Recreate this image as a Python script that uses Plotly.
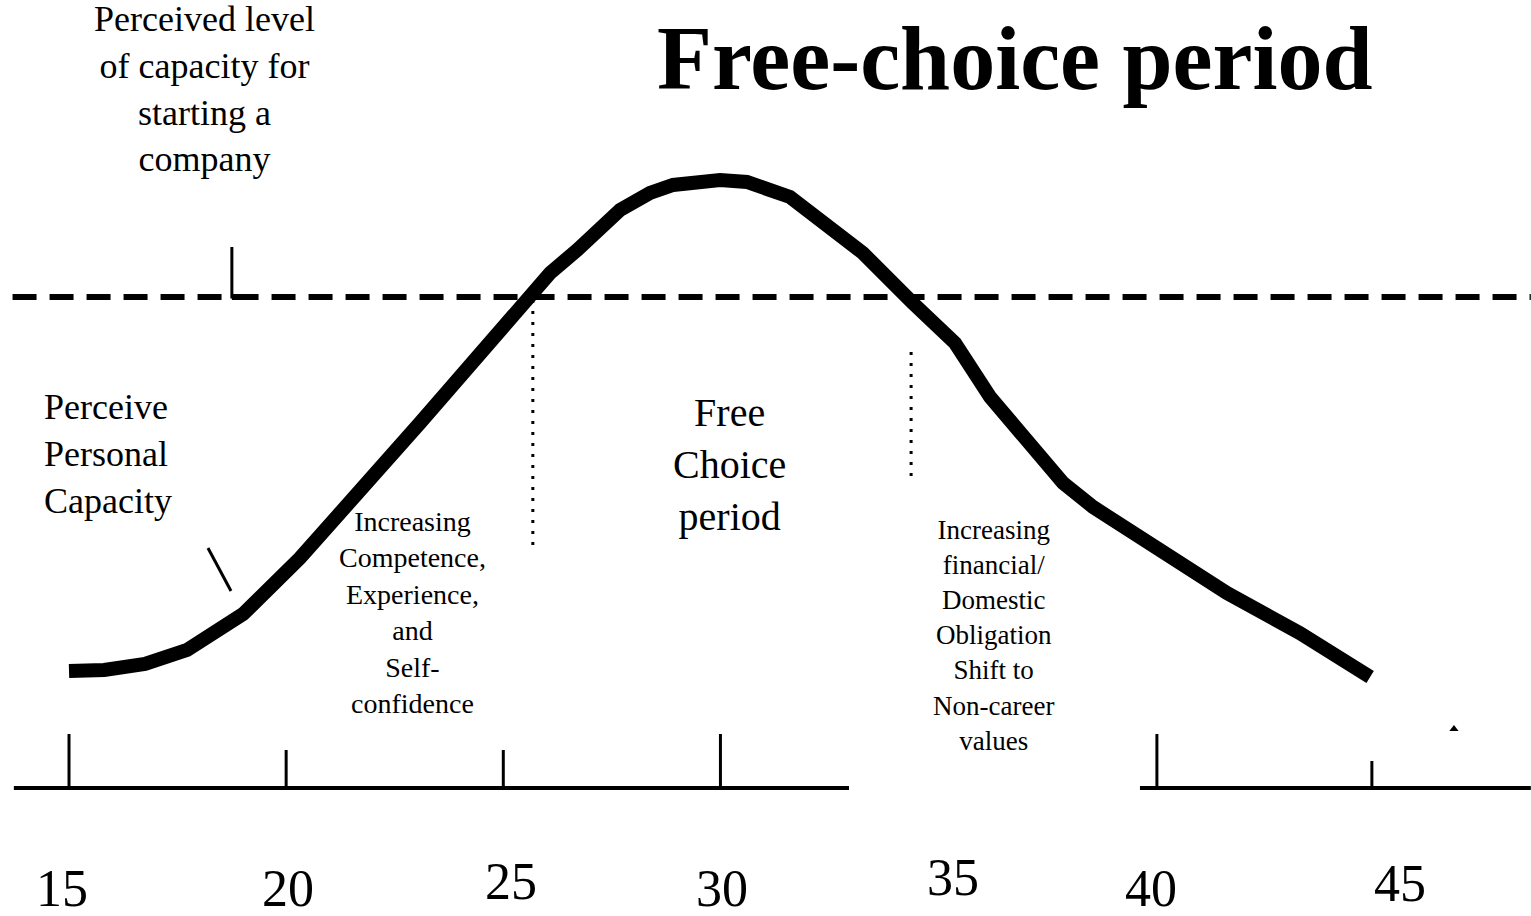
import plotly.graph_objects as go

# ---- data ----
curve_age = [15.0, 15.81, 16.75, 17.72, 19.01, 20.32, 23.08, 25.78, 26.08, 26.70, 27.69, 28.38, 28.91,
             29.99, 30.61, 31.60, 33.28, 34.43, 35.40, 36.21, 37.89, 38.58, 40.05, 41.66, 43.34, 44.96]
curve_level = [1.17, 1.18, 1.24, 1.38, 1.74, 2.30, 3.65, 4.98, 5.15, 5.38, 5.78, 5.95, 6.03,
               6.08, 6.06, 5.91, 5.35, 4.85, 4.45, 3.91, 3.05, 2.81, 2.38, 1.95, 1.55, 1.11]
threshold_level = 4.91
tick_ages = [15, 20, 25, 30, 40.05, 45]
tick_heights = [0.54, 0.38, 0.38, 0.54, 0.54, 0.27]
tick_labels = ["15", "20", "25", "30", "35", "40", "45"]
label_ages = [14.84, 20.04, 25.17, 30.03, 35.35, 39.91, 45.65]
label_levels = [-1.00, -1.00, -0.93, -1.00, -0.89, -1.00, -0.95]
axis_segments = [(13.73, 32.96), (39.66, 48.66)]
free_choice_start = 25.68
free_choice_end = 34.39

FONT = "Liberation Serif, Times New Roman, serif"

fig = go.Figure()

# main curve
fig.add_trace(go.Scatter(x=curve_age, y=curve_level, mode="lines",
                         line=dict(color="black", width=14), hoverinfo="skip"))

# threshold dashed line
fig.add_trace(go.Scatter(x=[13.7, 48.66], y=[threshold_level, threshold_level], mode="lines",
                         line=dict(color="black", width=6, dash="24px,13px"), hoverinfo="skip"))

# L-mark near threshold
fig.add_trace(go.Scatter(x=[18.75, 18.75, 19.2], y=[5.41, threshold_level, threshold_level], mode="lines",
                         line=dict(color="black", width=3), hoverinfo="skip"))
fig.add_trace(go.Scatter(x=[18.75, 19.2], y=[threshold_level, threshold_level], mode="lines",
                         line=dict(color="black", width=6), hoverinfo="skip"))

# small diagonal pointer
fig.add_trace(go.Scatter(x=[18.20, 18.73], y=[2.40, 1.97], mode="lines",
                         line=dict(color="black", width=3), hoverinfo="skip"))

# dotted boundaries of free choice period
fig.add_trace(go.Scatter(x=[free_choice_start, free_choice_start], y=[4.88, 2.41], mode="lines",
                         line=dict(color="black", width=3, dash="3px,8px"), hoverinfo="skip"))
fig.add_trace(go.Scatter(x=[free_choice_end, free_choice_end], y=[4.36, 3.11], mode="lines",
                         line=dict(color="black", width=3, dash="3px,8px"), hoverinfo="skip"))

# axis segments
for a0, a1 in axis_segments:
    fig.add_trace(go.Scatter(x=[a0, a1], y=[0, 0], mode="lines",
                             line=dict(color="black", width=4), hoverinfo="skip"))

# ticks
for ta, th in zip(tick_ages, tick_heights):
    fig.add_trace(go.Scatter(x=[ta, ta], y=[0, th], mode="lines",
                             line=dict(color="black", width=3), hoverinfo="skip"))

# small triangle
fig.add_trace(go.Scatter(x=[46.89], y=[0.59], mode="markers",
                         marker=dict(symbol="triangle-up", size=8, color="black"), hoverinfo="skip"))

annotations = []
for lab, la, ll in zip(tick_labels, label_ages, label_levels):
    annotations.append(dict(x=la, y=ll, text=lab, showarrow=False, xanchor="center", yanchor="middle",
                            font=dict(family=FONT, size=52, color="black")))

annotations += [
    dict(x=36.78, y=7.30, text="<b>Free-choice period</b>", showarrow=False,
         xanchor="center", yanchor="middle", font=dict(family=FONT, size=90, color="black")),
    dict(x=18.13, y=6.99, text="Perceived level<br>of capacity for<br>starting a<br>company", showarrow=False,
         xanchor="center", yanchor="middle", align="center", font=dict(family=FONT, size=36, color="black")),
    dict(x=14.38, y=3.34, text="Perceive<br>Personal<br>Capacity", showarrow=False,
         xanchor="left", yanchor="middle", align="left", font=dict(family=FONT, size=36, color="black")),
    dict(x=30.20, y=3.24, text="Free<br>Choice<br>period", showarrow=False,
         xanchor="center", yanchor="middle", align="center", font=dict(family=FONT, size=40, color="black")),
    dict(x=22.92, y=1.76, text="Increasing<br>Competence,<br>Experience,<br>and<br>Self-<br>confidence",
         showarrow=False, xanchor="center", yanchor="middle", align="center",
         font=dict(family=FONT, size=28, color="black")),
    dict(x=36.28, y=1.53, text="Increasing<br>financial/<br>Domestic<br>Obligation<br>Shift to<br>Non-career<br>values",
         showarrow=False, xanchor="center", yanchor="middle", align="center",
         font=dict(family=FONT, size=27, color="black")),
]

fig.update_layout(
    width=1531, height=916,
    margin=dict(l=0, r=0, t=0, b=0),
    paper_bgcolor="white", plot_bgcolor="white",
    showlegend=False,
    xaxis=dict(range=[13.411, 48.664], visible=False, fixedrange=True),
    yaxis=dict(range=[-1.28, 7.88], visible=False, fixedrange=True),
    annotations=annotations,
)

fig.write_html("out.html", config={"displayModeBar": False},
               post_script="document.body.style.margin='0';document.body.style.overflow='hidden';")
